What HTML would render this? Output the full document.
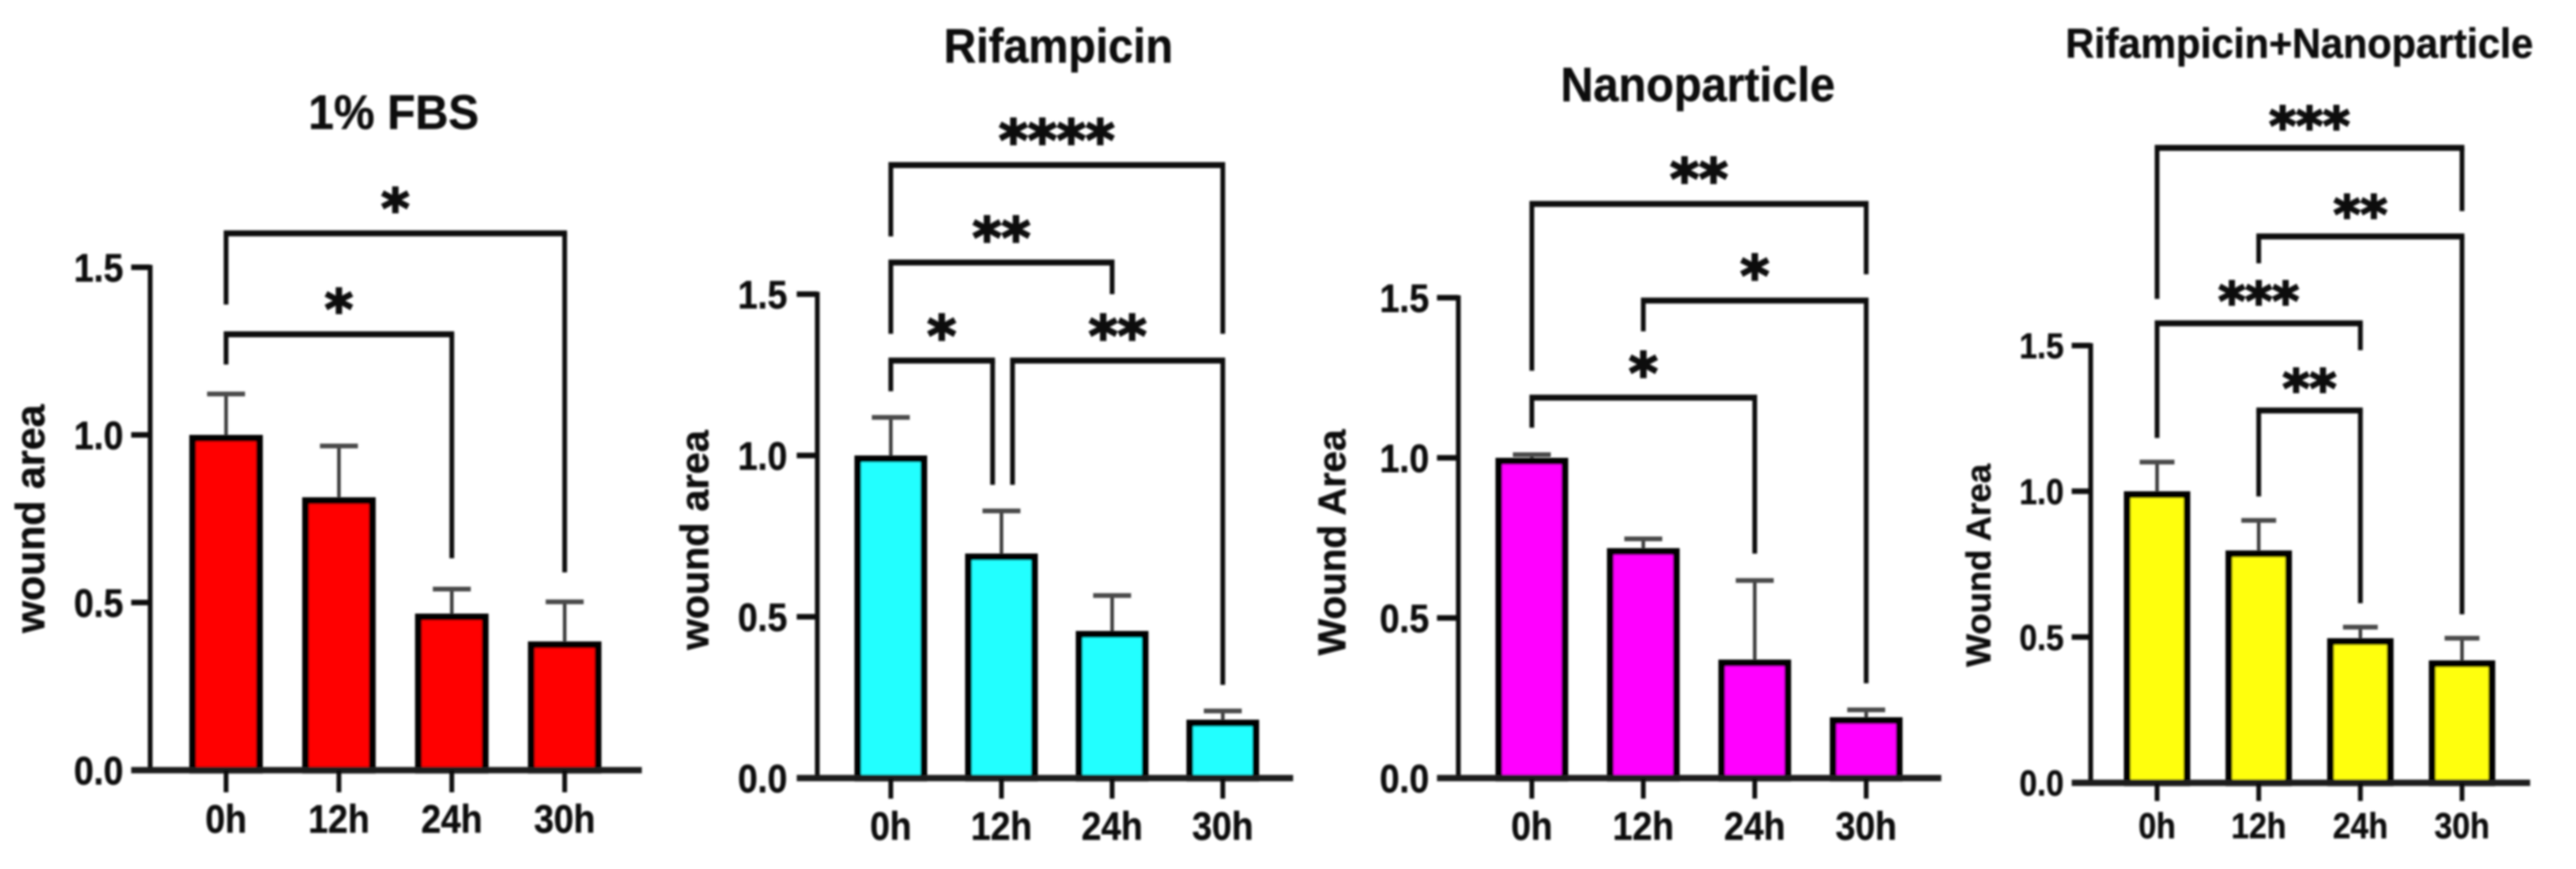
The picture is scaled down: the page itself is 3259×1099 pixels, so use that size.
<!DOCTYPE html>
<html lang="en">
<head>
<meta charset="utf-8">
<title>Wound area bar charts</title>
<style>
html,body{margin:0;padding:0;background:#fff;}
svg{display:block;}
text{font-family:"Liberation Sans",Arial,sans-serif;font-weight:700;fill:#0d0d0d;stroke:#0d0d0d;stroke-width:0.5px;}
.stars{font-family:"DejaVu Sans",sans-serif;font-weight:700;stroke-width:2.4px;}
</style>
</head>
<body>
<svg id="figure" xmlns="http://www.w3.org/2000/svg" width="3259" height="1099" viewBox="0 0 3259 1099">
  <defs>
    <filter id="soft" filterUnits="userSpaceOnUse" x="0" y="0" width="3259" height="1099">
      <feGaussianBlur stdDeviation="1.2"/>
    </filter>
  </defs>
  <rect width="3259" height="1099" fill="#fff"/>
  <g id="root" filter="url(#soft)">
    <text transform="translate(498,163) scale(0.95,1)" text-anchor="middle" font-size="61">1% FBS</text>
    <text transform="translate(1339,79) scale(0.93,1)" text-anchor="middle" font-size="61">Rifampicin</text>
    <text transform="translate(2148,128) scale(0.94,1)" text-anchor="middle" font-size="61">Nanoparticle</text>
    <text transform="translate(2909,73) scale(0.95,1)" text-anchor="middle" font-size="53">Rifampicin+Nanoparticle</text>

    <text transform="translate(56,656) rotate(-90)" text-anchor="middle" font-size="52">wound area</text>
    <text transform="translate(896,683) rotate(-90)" text-anchor="middle" font-size="50">wound area</text>
    <text transform="translate(1702,686) rotate(-90)" text-anchor="middle" font-size="49">Wound Area</text>
    <text transform="translate(2518,715) rotate(-90)" text-anchor="middle" font-size="44">Wound Area</text>
  </g>
</svg>
<script>
const categories = ['0h', '12h', '24h', '30h'];
const tickValues = [0, 0.5, 1, 1.5];
const tickLabels = ['0.0', '0.5', '1.0', '1.5'];

const fbsMeans = [1.0, 0.814, 0.467, 0.384];
const fbsUpper = [1.122, 0.967, 0.54, 0.502];
const rifampicinMeans = [1.0, 0.696, 0.456, 0.181];
const rifampicinUpper = [1.118, 0.828, 0.566, 0.208];
const nanoparticleMeans = [1.0, 0.718, 0.37, 0.19];
const nanoparticleUpper = [1.01, 0.747, 0.617, 0.213];
const combinationMeans = [1.0, 0.797, 0.496, 0.42];
const combinationUpper = [1.1, 0.9, 0.534, 0.496];

const fbsBrackets = [
  {from: 0, to: 3, level: 1.601, leftEnd: 1.389, rightEnd: 0.590, stars: '*'},
  {from: 0, to: 2, level: 1.300, leftEnd: 1.210, rightEnd: 0.632, stars: '*'}
];
const rifampicinBrackets = [
  {from: 0, to: 3, level: 1.900, leftEnd: 1.679, rightEnd: 1.377, stars: '****'},
  {from: 0, to: 2, level: 1.598, leftEnd: 1.377, rightEnd: 1.500, stars: '**'},
  {from: 0, to: 0.92, level: 1.294, leftEnd: 1.199, rightEnd: 0.909, stars: '*'},
  {from: 1.10, to: 3, level: 1.294, leftEnd: 0.909, rightEnd: 0.289, stars: '**'}
];
const nanoparticleBrackets = [
  {from: 0, to: 3, level: 1.793, leftEnd: 1.272, rightEnd: 1.573, stars: '**'},
  {from: 1, to: 3, level: 1.491, leftEnd: 1.395, rightEnd: 0.296, stars: '*'},
  {from: 0, to: 2, level: 1.188, leftEnd: 1.094, rightEnd: 0.701, stars: '*'}
];
const combinationBrackets = [
  {from: 0, to: 3, level: 2.178, leftEnd: 1.660, rightEnd: 1.961, stars: '***'},
  {from: 1, to: 3, level: 1.874, leftEnd: 1.782, rightEnd: 0.578, stars: '**'},
  {from: 0, to: 2, level: 1.576, leftEnd: 1.183, rightEnd: 1.484, stars: '***'},
  {from: 1, to: 2, level: 1.277, leftEnd: 0.982, rightEnd: 0.616, stars: '**'}
];

const panels = [
  {key: 'fbs', means: fbsMeans, upper: fbsUpper, brackets: fbsBrackets, color: '#ff0505',
   axisX: 190, baseY: 974, unit: 424, firstX: 286, stepX: 142.8, barW: 93, endX: 812,
   tickLeft: 166, labelRight: 156, xTickEnd: 1002, xLabelY: 1053, font: 50, capW: 48, starSize: 68, starRise: 43},
  {key: 'rifampicin', means: rifampicinMeans, upper: rifampicinUpper, brackets: rifampicinBrackets, color: '#22ffff',
   axisX: 1034, baseY: 984, unit: 408, firstX: 1127, stepX: 140, barW: 92, endX: 1636,
   tickLeft: 1008, labelRight: 996, xTickEnd: 1010, xLabelY: 1062, font: 50, capW: 48, starSize: 70, starRise: 43},
  {key: 'nanoparticle', means: nanoparticleMeans, upper: nanoparticleUpper, brackets: nanoparticleBrackets, color: '#ff05ff',
   axisX: 1845, baseY: 984, unit: 405, firstX: 1938, stepX: 141, barW: 92, endX: 2456,
   tickLeft: 1818, labelRight: 1808, xTickEnd: 1010, xLabelY: 1062, font: 50, capW: 48, starSize: 70, starRise: 43},
  {key: 'combination', means: combinationMeans, upper: combinationUpper, brackets: combinationBrackets, color: '#ffff10',
   axisX: 2645, baseY: 990, unit: 368.7, firstX: 2729, stepX: 128.6, barW: 84, endX: 3201,
   tickLeft: 2621, labelRight: 2611, xTickEnd: 1013, xLabelY: 1060, font: 45, capW: 44, starSize: 65, starRise: 39}
];

const svgNS = 'http://www.w3.org/2000/svg';
const root = document.getElementById('root');
const INK = '#0d0d0d';

function line(parent, x1, y1, x2, y2, width, color, name) {
  const el = document.createElementNS(svgNS, 'line');
  el.setAttribute('x1', x1);
  el.setAttribute('y1', y1);
  el.setAttribute('x2', x2);
  el.setAttribute('y2', y2);
  el.setAttribute('stroke', color);
  el.setAttribute('stroke-width', width);
  
  
  parent.appendChild(el);
  return el;
}

function label(parent, x, y, str, size, anchor, sx, name) {
  const el = document.createElementNS(svgNS, 'text');
  el.setAttribute('transform', 'translate(' + x + ',' + y + ') scale(' + sx + ',1)');
  el.setAttribute('text-anchor', anchor);
  el.setAttribute('font-size', size);
  el.textContent = str;
  
  
  parent.appendChild(el);
  return el;
}

panels.forEach(function (p) {
  const yPos = function (v) { return p.baseY - v * p.unit; };
  const xPos = function (i) { return p.firstX + i * p.stepX; };

  const g = document.createElementNS(svgNS, 'g');
  
  
  root.appendChild(g);

  // error bars are drawn behind the bars
  p.means.forEach(function (mean, i) {
    const cx = xPos(i);
    line(g, cx, yPos(mean), cx, yPos(p.upper[i]), 4.5, '#3a3a3a', 'error-bar-' + categories[i]);
    line(g, cx - p.capW / 2, yPos(p.upper[i]), cx + p.capW / 2, yPos(p.upper[i]), 6, '#4a4a4a', 'error-cap-' + categories[i]);
  });

  // bars
  p.means.forEach(function (mean, i) {
    const bar = document.createElementNS(svgNS, 'rect');
    const sw = 8.5;
    bar.setAttribute('x', xPos(i) - p.barW / 2 + sw / 2);
    bar.setAttribute('y', yPos(mean) + sw / 2);
    bar.setAttribute('width', p.barW - sw);
    bar.setAttribute('height', p.baseY - yPos(mean) - sw / 2);
    bar.setAttribute('fill', p.color);
    bar.setAttribute('stroke', '#050505');
    bar.setAttribute('stroke-width', sw);
    
    
    g.appendChild(bar);
  });

  // y axis
  line(g, p.axisX, yPos(1.5) - 3, p.axisX, p.baseY, 6, INK, 'y-axis-line');
  tickValues.forEach(function (v, i) {
    if (v !== 0) {
      line(g, p.tickLeft, yPos(v), p.axisX, yPos(v), 7, INK, 'y-tick-' + tickLabels[i]);
    }
    label(g, p.labelRight, yPos(v) + p.font * 0.358, tickLabels[i], p.font, 'end', 0.9, 'y-tick-label-' + tickLabels[i]);
  });

  // x axis
  line(g, p.tickLeft, p.baseY, p.endX, p.baseY, 8, '#1c1c1c', 'x-axis-line');
  categories.forEach(function (c, i) {
    line(g, xPos(i), p.baseY, xPos(i), p.xTickEnd, 6, INK, 'x-tick-' + c);
    label(g, xPos(i), p.xLabelY, c, p.font, 'middle', 0.9, 'x-tick-label-' + c);
  });

  // significance brackets
  p.brackets.forEach(function (b, i) {
    const bg = document.createElementNS(svgNS, 'g');
    
    
    g.appendChild(bg);
    const xa = xPos(b.from);
    const xb = xPos(b.to);
    const yTop = yPos(b.level);
    line(bg, xa - 3, yTop, xb + 3, yTop, 7.5, INK, 'bracket-top');
    line(bg, xa, yTop, xa, yPos(b.leftEnd), 6, INK, 'bracket-left');
    line(bg, xb, yTop, xb, yPos(b.rightEnd), 6, INK, 'bracket-right');
    const star = document.createElementNS(svgNS, 'text');
    star.setAttribute('class', 'stars');
    star.setAttribute('x', (xa + xb) / 2);
    star.setAttribute('y', yTop - p.starRise + p.starSize * 0.52);
    star.setAttribute('text-anchor', 'middle');
    star.setAttribute('font-size', p.starSize);
    star.textContent = b.stars;
    
    
    bg.appendChild(star);
  });
});
</script>
</body>
</html>
